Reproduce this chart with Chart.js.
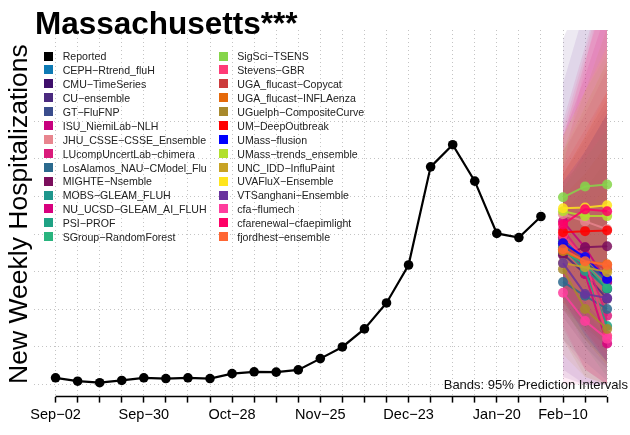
<!DOCTYPE html>
<html>
<head>
<meta charset="utf-8">
<script src="https://cdn.jsdelivr.net/npm/chart.js@4.4.1/dist/chart.umd.min.js"></script>
<style>
  body { margin: 0; background: #fff; }
  #wrap { position: relative; width: 630px; height: 435px; font-family: Arial, "Liberation Sans", Helvetica, sans-serif; overflow: hidden; }
  #wrap canvas { position: absolute; left: 0; top: 0; }
  .title { position: absolute; left: 35px; top: 5px; font-size: 31.5px; line-height: 36px; font-weight: bold; color: #000; white-space: nowrap; }
  .ylab { position: absolute; width: 360px; height: 30px; left: -162px; top: 199px; font-size: 26.5px; line-height: 30px; text-align: center; transform: rotate(-90deg); white-space: nowrap; color: #000; }
  .note { position: absolute; right: 2px; top: 377px; font-size: 13px; line-height: 15px; color: #111; white-space: nowrap; }
  .lg { position: absolute; font-size: 10.6px; line-height: 14px; color: #222; white-space: nowrap; }
  .sw { position: absolute; width: 9px; height: 9px; }
</style>
</head>
<body>
<div id="wrap">
  <canvas id="chart" width="630" height="435"></canvas>
  <div class="title">Massachusetts***</div>
  <div class="ylab">New Weekly Hospitalizations</div>
  <div class="note">Bands: 95% Prediction Intervals</div>
  <div id="legend"></div>
</div>
<script>
// week index 0 = Sep-02, one step per week
const tickIdx = [0, 4, 8, 12, 16, 20, 23];
const tickText = ['Sep−02', 'Sep−30', 'Oct−28', 'Nov−25', 'Dec−23', 'Jan−20', 'Feb−10'];

const reportedHosp = [18, 9, 5, 11, 18, 16, 18, 16, 29, 34, 33, 39, 69, 100, 148, 217, 318, 579, 638, 541, 402, 391, 447];

const fcWeeks = [23, 24, 25];

const modelNames = [
  'CEPH−Rtrend_fluH', 'CMU−TimeSeries', 'CU−ensemble', 'GT−FluFNP', 'ISU_NiemiLab−NLH',
  'JHU_CSSE−CSSE_Ensemble', 'LUcompUncertLab−chimera', 'LosAlamos_NAU−CModel_Flu', 'MIGHTE−Nsemble',
  'MOBS−GLEAM_FLUH', 'NU_UCSD−GLEAM_AI_FLUH', 'PSI−PROF', 'SGroup−RandomForest', 'SigSci−TSENS',
  'Stevens−GBR', 'UGA_flucast−Copycat', 'UGA_flucast−INFLAenza', 'UGuelph−CompositeCurve',
  'UM−DeepOutbreak', 'UMass−flusion', 'UMass−trends_ensemble', 'UNC_IDD−InfluPaint',
  'UVAFluX−Ensemble', 'VTSanghani−Ensemble', 'cfa−flumech', 'cfarenewal−cfaepimlight', 'fjordhest−ensemble'
];

const modelColors = [
  '#0E7AB4', '#3F0F6B', '#4B2A7F', '#3A4D8C', '#C7007E',
  '#E8858E', '#DA1B7B', '#2B6A8E', '#7B0E5C',
  '#1E968C', '#D8007E', '#1FA284', '#29B47E', '#86D54A',
  '#FF3B77', '#CC3B3C', '#E5690A', '#A8892C',
  '#FF0000', '#0000FF', '#B2E02C', '#C8A324',
  '#FFE51C', '#6A339E', '#FF3D9D', '#FF0066', '#FF6633'
];

// point forecasts (median) for the three target weeks
const fcMid = [
  [387, 328, 273], [360, 312, 254], [347, 294, 228], [371, 323, 281], [434, 365, 273],
  [453, 434, 413], [413, 334, 183], [273, 236, 201], [344, 365, 368],
  [381, 307, 254], [392, 294, 109], [365, 302, 156], [355, 320, 257], [498, 527, 532],
  [397, 334, 130], [376, 328, 307], [355, 328, 320], [307, 201, 148],
  [405, 408, 410], [376, 339, 281], [461, 448, 448], [323, 312, 299],
  [469, 471, 477], [323, 241, 230], [244, 169, 122], [426, 466, 461], [360, 328, 318]
];

// 95% interval bounds
const fcLow = [
  [200, 120, 60], [180, 100, 40], [20, 0, 0], [200, 120, 60], [240, 150, 60],
  [280, 200, 120], [120, 40, 0], [120, 60, 10], [200, 150, 100],
  [220, 130, 60], [150, 40, 0], [220, 100, 20], [200, 120, 50], [360, 300, 220],
  [160, 40, 0], [220, 140, 80], [220, 160, 100], [120, 20, 0],
  [250, 180, 110], [230, 130, 60], [300, 200, 120], [80, 20, 0],
  [300, 220, 150], [40, 0, 0], [0, 0, 0], [220, 140, 60], [200, 120, 50]
];
const fcHigh = [
  [560, 660, 760], [540, 620, 720], [920, 1050, 1150], [560, 650, 740], [620, 720, 840],
  [600, 740, 860], [700, 900, 1100], [460, 520, 600], [520, 620, 720],
  [540, 600, 680], [660, 820, 1000], [520, 600, 680], [520, 620, 720], [660, 780, 880],
  [680, 880, 1100], [560, 660, 760], [500, 560, 640], [500, 470, 520],
  [580, 680, 780], [540, 620, 720], [620, 740, 860], [620, 780, 950],
  [660, 780, 900], [800, 1000, 1100], [580, 850, 1100], [660, 860, 1050], [560, 660, 780]
];

function hexA(hex, a) {
  const n = parseInt(hex.slice(1), 16);
  return 'rgba(' + (n >> 16) + ',' + ((n >> 8) & 255) + ',' + (n & 255) + ',' + a + ')';
}

function pts(xs, ys) {
  return ys.map((v, i) => ({ x: xs[i], y: v }));
}

const datasets = [];
const last = modelNames.length - 1;

datasets.push({
  label: 'Reported',
  data: pts(reportedHosp.map((v, i) => i), reportedHosp),
  borderColor: '#000',
  backgroundColor: '#000',
  borderWidth: 2.2,
  pointRadius: 4.8,
  pointBorderWidth: 0,
  order: 0
});

// later models are drawn on top (lower order = drawn later)
modelNames.forEach((name, m) => {
  datasets.push({
    label: name,
    data: pts(fcWeeks, fcMid[m]),
    borderColor: hexA(modelColors[m], 0.85),
    backgroundColor: hexA(modelColors[m], 0.85),
    borderWidth: 2,
    pointRadius: 5,
    pointBorderWidth: 0,
    order: 1 + (last - m) / 100
  });
});

modelNames.forEach((name, m) => {
  datasets.push({
    label: name + ' low',
    data: pts(fcWeeks, fcLow[m]),
    borderWidth: 0,
    pointRadius: 0,
    fill: false,
    order: 2 + (last - m) / 100
  });
  datasets.push({
    label: name + ' high',
    data: pts(fcWeeks, fcHigh[m]),
    borderWidth: 0,
    pointRadius: 0,
    backgroundColor: hexA(modelColors[m], 0.1),
    fill: '-1',
    order: 2 + (last - m) / 100
  });
});

const axisLine = {
  id: 'axisLine',
  afterDraw(chart) {
    const x = chart.scales.x;
    const ctx = chart.ctx;
    ctx.save();
    ctx.strokeStyle = '#000';
    ctx.lineWidth = 1.5;
    ctx.beginPath();
    ctx.moveTo(x.getPixelForValue(0), chart.chartArea.bottom);
    ctx.lineTo(x.getPixelForValue(25), chart.chartArea.bottom);
    ctx.stroke();
    ctx.restore();
  }
};

new Chart(document.getElementById('chart'), {
  type: 'line',
  data: { datasets: datasets },
  options: {
    responsive: false,
    animation: false,
    layout: { padding: { left: 33.5, right: 0, top: 30, bottom: 7 } },
    plugins: { legend: { display: false }, tooltip: { enabled: false } },
    elements: { line: { tension: 0 } },
    scales: {
      x: {
        type: 'linear',
        min: -1,
        max: 25.81,
        afterBuildTicks: s => { s.ticks = []; for (let i = 0; i <= 25; i++) s.ticks.push({ value: i }); },
        ticks: {
          autoSkip: false,
          maxRotation: 0,
          padding: 4,
          color: '#000',
          font: { family: 'Arial, "Liberation Sans", sans-serif', size: 14.5 },
          callback: v => { const k = tickIdx.indexOf(v); return k >= 0 ? tickText[k] : ''; }
        },
        grid: {
          color: '#c4c4c4',
          lineWidth: 1,
          drawTicks: true,
          tickLength: 6,
          tickColor: '#000',
          tickWidth: 1.5,
          tickBorderDash: []
        },
        border: { display: false, dash: [1, 3] }
      },
      y: {
        min: -32,
        max: 943,
        afterBuildTicks: s => { s.ticks = []; for (let v = 0; v <= 700; v += 100) s.ticks.push({ value: v }); },
        ticks: { display: false },
        grid: { color: '#c4c4c4', lineWidth: 1, drawTicks: false },
        border: { display: false, dash: [1, 3] }
      }
    }
  },
  plugins: [axisLine]
});

// legend: two columns of 14 rows
const legendEl = document.getElementById('legend');
const legNames = ['Reported'].concat(modelNames);
const legColors = ['#000000'].concat(modelColors);
legNames.forEach((name, i) => {
  const col = i < 14 ? 0 : 1;
  const row = i % 14;
  const cy = 56 + row * 13.9;
  const sw = document.createElement('div');
  sw.className = 'sw';
  sw.style.left = (col ? 219 : 44) + 'px';
  sw.style.top = (cy - 4.5) + 'px';
  sw.style.background = legColors[i];
  legendEl.appendChild(sw);
  const tx = document.createElement('div');
  tx.className = 'lg';
  tx.style.left = (col ? 237.3 : 62.7) + 'px';
  tx.style.top = (cy - 6.7) + 'px';
  tx.textContent = name;
  legendEl.appendChild(tx);
});
</script>
</body>
</html>
